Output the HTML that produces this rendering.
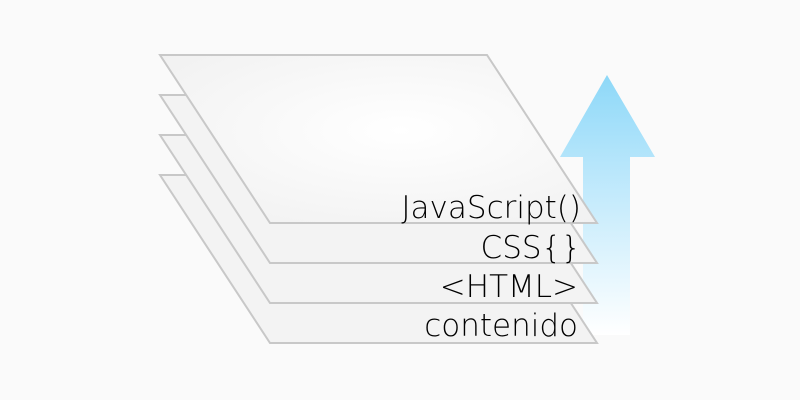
<!DOCTYPE html>
<html><head><style>html,body{margin:0;padding:0;background:#fafafa}svg{display:block}</style></head>
<body>
<svg width="800" height="400" viewBox="0 0 800 400" xmlns="http://www.w3.org/2000/svg">
<defs>
<linearGradient id="ar" x1="0" y1="0" x2="0" y2="1">
<stop offset="0" stop-color="#8dd8f8"/>
<stop offset="0.35" stop-color="#b7e6fb"/>
<stop offset="1" stop-color="#ffffff"/>
</linearGradient>
<radialGradient id="pl" cx="0.55" cy="0.45" r="0.7">
<stop offset="0" stop-color="#ffffff"/>
<stop offset="1" stop-color="#f1f1f1"/>
</radialGradient>
</defs>
<rect width="800" height="400" fill="#fafafa"/>
<path d="M560 157 L607 75 L655 157 L630 157 L630 335 L583 335 L583 157 Z" fill="url(#ar)"/>
<g stroke="#c8c8c8" stroke-width="2" fill="#f3f3f3">
<polygon points="160,175 487,175 597,343 270,343"/>
<polygon points="160,135 487,135 597,303 270,303"/>
<polygon points="160,95 487,95 597,263 270,263"/>
<polygon points="160,55 487,55 597,223 270,223" fill="url(#pl)"/>
</g>
<g font-family="'DejaVu Sans','Liberation Sans',sans-serif" font-size="31" fill="#000" text-anchor="end" font-weight="300" letter-spacing="0">
<text x="581" y="218">JavaScript()</text>
<text x="581" y="258">CSS{}</text>
<text x="578" y="297">&lt;HTML&gt;</text>
<text x="578" y="336">contenido</text>
</g>
</svg>
</body></html>
